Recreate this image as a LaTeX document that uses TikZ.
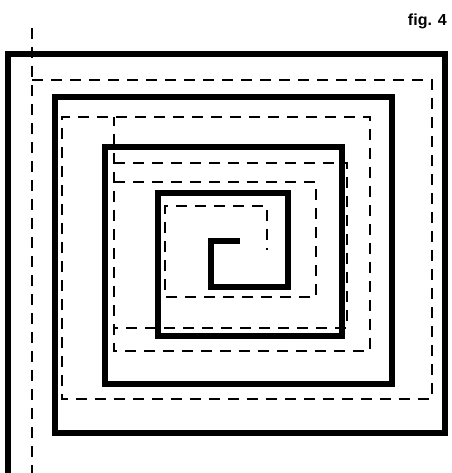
\documentclass[tikz,border=0pt]{standalone}
\usepackage{fontspec}
\setsansfont{Liberation Sans}
\usetikzlibrary{positioning}

\begin{document}
\begin{tikzpicture}[x=1pt, y=-1pt, font=\sffamily,
wall/.style={line width=6.5pt, line cap=butt, line join=miter},
trail/.style={line width=2.6pt, dash pattern=on 11pt off 8pt},
caption/.style={anchor=base east, inner sep=0pt, font=\sffamily\bfseries\fontsize{16}{16}\selectfont}]
\useasboundingbox (0,0) rectangle (451,473);
% solid spiral
\draw[wall] (240,241) -- (211,241) -- (211,287) -- (288,287) -- (288,193)
  -- (158,193) -- (158,336) -- (342,336) -- (342,147) -- (105,147)
  -- (105,384) -- (392,384) -- (392,97) -- (55,97) -- (55,433)
  -- (445,433) -- (445,54) -- (8,54) -- (8,476);
% dashed line
\draw[trail] (32,28) -- (32,476);
\draw[trail] (32,80) -- (432,80) -- (432,399) -- (62,399) -- (62,117)
  -- (370,117) -- (370,351) -- (114,351) -- (114,117);
\draw[trail] (114,163) -- (347,163) -- (347,328) -- (114,328);
\draw[trail] (114,182) -- (316,182) -- (316,297) -- (165,297) -- (165,206)
  -- (267,206) -- (267,250);
\node[caption] (fig) at (447,26) {fig. 4};
\end{tikzpicture}
\end{document}
